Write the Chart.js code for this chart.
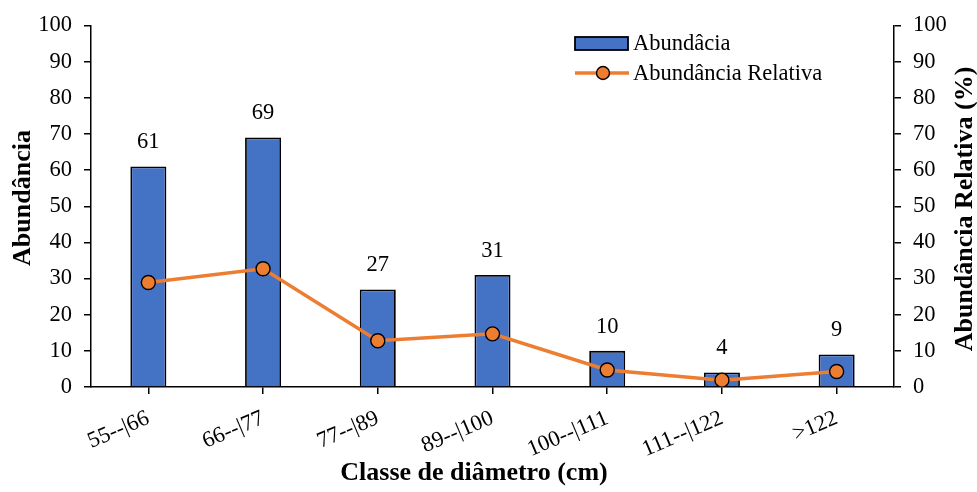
<!DOCTYPE html>
<html>
<head>
<meta charset="utf-8">
<script src="https://cdn.jsdelivr.net/npm/chart.js@4.4.1/dist/chart.umd.min.js"></script>
<style>
  html, body { margin: 0; padding: 0; background: #fff; }
  #wrap { width: 977px; height: 492px; }
</style>
</head>
<body>
<div id="wrap"><canvas id="c" width="977" height="492"></canvas></div>
<script>
// Diameter classes and counts per class
const classes = ['55--|66', '66--|77', '77--|89', '89--|100', '100--|111', '111--|122', '>122'];
const abundance = [61, 69, 27, 31, 10, 4, 9];
const relativeAbundance = [28.9, 32.7, 12.8, 14.7, 4.7, 1.9, 4.3];
const axisMin = 0;
const axisMax = 100;
const axisStep = 10;

const seriesNames = ['Abundâcia', 'Abundância Relativa'];
const leftTitle = 'Abundância';
const rightTitle = 'Abundância Relativa (%)';
const bottomTitle = 'Classe de diâmetro (cm)';

const SERIF = '"Liberation Serif", "Times New Roman", serif';
const BAR_BLUE = '#4472C4';
const LINE_ORANGE = '#ED7D31';

// Value labels above bars, legend box, axis titles
const decorations = {
  id: 'decorations',
  afterDatasetsDraw(chart) {
    const ctx = chart.ctx;
    const meta = chart.getDatasetMeta(0);
    ctx.save();
    ctx.fillStyle = '#000';
    ctx.font = '22.5px ' + SERIF;
    ctx.textAlign = 'center';
    ctx.textBaseline = 'middle';
    meta.data.forEach((bar, i) => {
      ctx.fillText(String(abundance[i]), bar.x, bar.y - 24);
    });
    ctx.restore();
  },
  afterDraw(chart) {
    const ctx = chart.ctx;
    ctx.save();

    // legend
    ctx.fillStyle = BAR_BLUE;
    ctx.fillRect(575, 37, 53, 13);
    ctx.strokeStyle = '#000';
    ctx.lineWidth = 1.8;
    ctx.strokeRect(575, 37, 53, 13);

    ctx.strokeStyle = LINE_ORANGE;
    ctx.lineWidth = 3.5;
    ctx.beginPath();
    ctx.moveTo(575, 73);
    ctx.lineTo(629, 73);
    ctx.stroke();
    ctx.beginPath();
    ctx.arc(603, 73, 6.5, 0, Math.PI * 2);
    ctx.fillStyle = LINE_ORANGE;
    ctx.fill();
    ctx.strokeStyle = '#000';
    ctx.lineWidth = 1.4;
    ctx.stroke();

    ctx.fillStyle = '#000';
    ctx.font = '22.5px ' + SERIF;
    ctx.textAlign = 'left';
    ctx.textBaseline = 'middle';
    ctx.fillText(seriesNames[0], 633, 44);
    ctx.fillText(seriesNames[1], 633, 74);

    // axis titles
    ctx.font = 'bold 26px ' + SERIF;
    ctx.textAlign = 'center';
    ctx.textBaseline = 'middle';
    ctx.fillText(bottomTitle, 474, 473);

    ctx.save();
    ctx.translate(23, 198);
    ctx.rotate(-Math.PI / 2);
    ctx.fillText(leftTitle, 0, 0);
    ctx.restore();

    ctx.save();
    ctx.translate(965, 209);
    ctx.rotate(-Math.PI / 2);
    ctx.fillText(rightTitle, 0, 0);
    ctx.restore();

    ctx.restore();
  }
};

const valueAxis = (position, width, pad) => ({
  type: 'linear',
  position: position,
  min: axisMin,
  max: axisMax,
  grid: { drawOnChartArea: false, drawTicks: true, tickLength: 7, color: '#000', lineWidth: 1.5 },
  border: { color: '#000', width: 1.5 },
  ticks: {
    stepSize: axisStep,
    color: '#000',
    padding: pad,
    font: { family: SERIF, size: 22.5 }
  },
  afterFit(scale) { scale.width = width; }
});

new Chart(document.getElementById('c'), {
  data: {
    labels: classes,
    datasets: [
      {
        type: 'bar',
        label: seriesNames[0],
        data: abundance,
        yAxisID: 'y',
        backgroundColor: BAR_BLUE,
        borderColor: '#000',
        borderWidth: 1.8,
        barPercentage: 0.314,
        categoryPercentage: 1,
        order: 2
      },
      {
        type: 'line',
        label: seriesNames[1],
        data: relativeAbundance,
        yAxisID: 'y1',
        borderColor: LINE_ORANGE,
        borderWidth: 3.5,
        pointRadius: 7,
        pointBackgroundColor: LINE_ORANGE,
        pointBorderColor: '#000',
        pointBorderWidth: 1.4,
        tension: 0,
        order: 1
      }
    ]
  },
  options: {
    responsive: false,
    animation: false,
    devicePixelRatio: 1,
    layout: { padding: { top: 24, left: 0, right: 0, bottom: 0 } },
    plugins: {
      legend: { display: false },
      tooltip: { enabled: false },
      title: { display: false }
    },
    scales: {
      x: {
        type: 'category',
        offset: true,
        grid: { offset: false, drawOnChartArea: false, drawTicks: true, tickLength: 7, color: '#000', lineWidth: 1.5 },
        border: { color: '#000', width: 1.5 },
        ticks: {
          color: '#000',
          autoSkip: false,
          minRotation: 23,
          maxRotation: 23,
          padding: 11,
          font: { family: SERIF, size: 22.5 }
        },
        afterFit(scale) { scale.height = 105; }
      },
      y: valueAxis('left', 91, 12),
      y1: valueAxis('right', 83, 12)
    }
  },
  plugins: [decorations]
});
</script>
</body>
</html>
